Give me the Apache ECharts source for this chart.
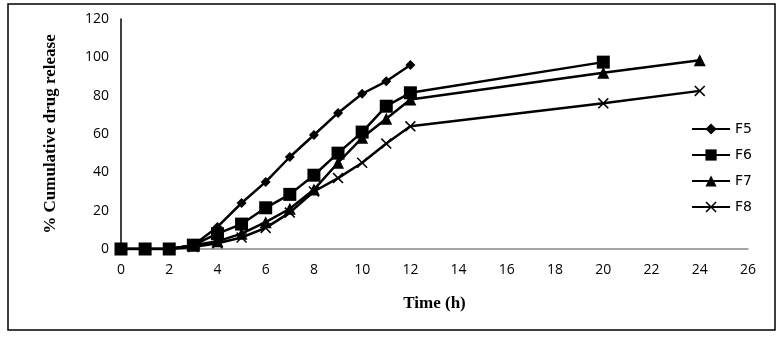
<!DOCTYPE html>
<html><head><meta charset="utf-8">
<script src="https://cdn.jsdelivr.net/npm/echarts@6/dist/echarts.min.js"></script>
<style>html,body{margin:0;padding:0;background:#fff}#c{width:783px;height:344px}</style>
</head><body><div id="c"></div>
<script>
var timeF5 = [0,1,2,3,4,5,6,7,8,9,10,11,12];
var valF5  = [0,0,0,2,11.5,24,35,48,59.5,71,81,87.5,96];
var timeF6 = [0,1,2,3,4,5,6,7,8,9,10,11,12,20];
var valF6  = [0,0,0,2,8,13,21.5,28.5,38.5,50,61,74.5,81.5,97.5];
var timeF7 = [0,1,2,3,4,5,6,7,8,9,10,11,12,20,24];
var valF7  = [0,0,0,2,4,8,14,21,31,45,58,68,78,92,98.5];
var timeF8 = [0,1,2,3,4,5,6,7,8,9,10,11,12,20,24];
var valF8  = [0,0,0,1,3,6,11,19,30,37,45,55,64,76,82.5];
var seriesNames = ['F5','F6','F7','F8'];
var xTicks = [0,2,4,6,8,10,12,14,16,18,20,22,24,26];
var yTicks = [0,20,40,60,80,100,120];

function pairs(t,v){return t.map(function(x,i){return [x,v[i]];});}
var crossPath = 'path://M0,1L1,0L5,4L9,0L10,1L6,5L10,9L9,10L5,6L1,10L0,9L4,5Z';
var symbols = ['diamond','rect','triangle',crossPath];
var sizes = [10,13,12,11];
var datas = [pairs(timeF5,valF5),pairs(timeF6,valF6),pairs(timeF7,valF7),pairs(timeF8,valF8)];

var chart = echarts.init(document.getElementById('c'));
chart.setOption({
  backgroundColor:'#fff',
  animation:false,
  grid:{left:121,right:35,top:19,bottom:95},
  graphic:[{type:'rect',shape:{x:8,y:4,width:767,height:326},style:{fill:'none',stroke:'#000',lineWidth:1.5},z:-1}],
  legend:{
    orient:'vertical',right:26,top:117,itemGap:12,itemWidth:38,itemHeight:14,
    textStyle:{fontFamily:'DejaVu Sans',fontSize:14,color:'#000'},
    data:seriesNames
  },
  xAxis:{type:'value',min:0,max:26,interval:2,
    name:'Time (h)',nameLocation:'middle',nameGap:46,
    nameTextStyle:{fontFamily:'Liberation Serif',fontWeight:'bold',fontSize:17,color:'#000'},
    axisLine:{lineStyle:{color:'#888',width:1.5}},axisTick:{show:false},splitLine:{show:false},
    axisLabel:{margin:14,fontFamily:'Open Sans',fontSize:14,color:'#000'}},
  yAxis:{type:'value',min:0,max:120,interval:20,
    name:'% Cumulative drug release',nameLocation:'middle',nameGap:62,
    nameTextStyle:{fontFamily:'Liberation Serif',fontWeight:'bold',fontSize:17,color:'#000'},
    axisLine:{show:true,lineStyle:{color:'#000',width:1.5}},axisTick:{show:false},splitLine:{show:false},
    axisLabel:{margin:12,fontFamily:'Open Sans',fontSize:14,color:'#000'}},
  series:seriesNames.map(function(n,i){return {
    name:n,type:'line',data:datas[i],symbol:symbols[i],symbolSize:sizes[i],
    lineStyle:{color:'#000',width:2.5},itemStyle:{color:'#000'},showAllSymbol:true
  };})
});
</script></body></html>
